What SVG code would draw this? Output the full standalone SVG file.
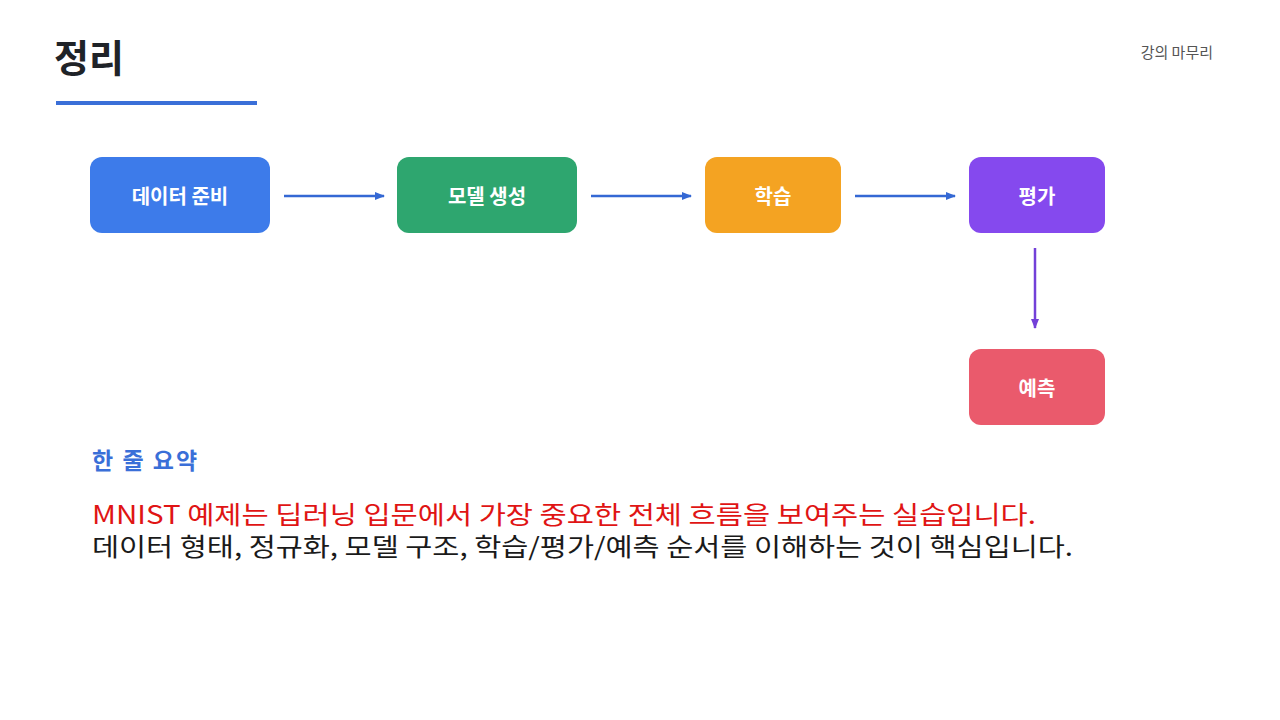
<svg xmlns="http://www.w3.org/2000/svg" width="1280" height="720" viewBox="0 0 1280 720">
<defs>
<style>
.t{font-family:"Noto Sans CJK KR","Noto Sans",sans-serif}
.nl{font-family:"Noto Sans CJK KR","Noto Sans",sans-serif;font-size:20px;font-weight:700;fill:#fff;text-anchor:middle;dominant-baseline:central}
.c{stroke-width:2.5;fill:none}
</style>
<marker id="ab" viewBox="0 0 10 10" refX="9" refY="5" markerWidth="4" markerHeight="4" orient="auto" markerUnits="strokeWidth"><path d="M0,1 L10,5 L0,9 z" fill="#3468d4"/></marker>
<marker id="ap" viewBox="0 0 10 10" refX="9" refY="5" markerWidth="4" markerHeight="4" orient="auto" markerUnits="strokeWidth"><path d="M0,1 L10,5 L0,9 z" fill="#7340d8"/></marker>
</defs>
<rect width="1280" height="720" fill="#fff"/>
<g id="header">
<text class="t" x="54" y="72" font-size="38" font-weight="700" fill="#1f2328">정리</text>
<rect x="56" y="101" width="201" height="4" fill="#3a6fd8"/>
<text class="t" x="1213" y="58" font-size="15" fill="#555" text-anchor="end">강의 마무리</text>
</g>
<g id="connectors">
<line class="c" x1="284" y1="196" x2="384" y2="196" stroke="#3468d4" marker-end="url(#ab)"/>
<line class="c" x1="591" y1="196" x2="691" y2="196" stroke="#3468d4" marker-end="url(#ab)"/>
<line class="c" x1="855" y1="196" x2="955" y2="196" stroke="#3468d4" marker-end="url(#ab)"/>
<line class="c" x1="1035" y1="248" x2="1035" y2="328" stroke="#7340d8" marker-end="url(#ap)"/>
</g>
<g id="n1"><rect x="90" y="157" width="180" height="76" rx="12" fill="#3d7bea"/><text class="nl" x="180" y="195">데이터 준비</text></g>
<g id="n2"><rect x="397" y="157" width="180" height="76" rx="12" fill="#2ea66f"/><text class="nl" x="487" y="195">모델 생성</text></g>
<g id="n3"><rect x="705" y="157" width="136" height="76" rx="12" fill="#f4a322"/><text class="nl" x="773" y="195">학습</text></g>
<g id="n4"><rect x="969" y="157" width="136" height="76" rx="12" fill="#8549ee"/><text class="nl" x="1037" y="195">평가</text></g>
<g id="n5"><rect x="969" y="349" width="136" height="76" rx="12" fill="#ea5a6c"/><text class="nl" x="1037" y="387">예측</text></g>
<g id="summary">
<text class="t" x="92" y="469" font-size="23" font-weight="700" fill="#3a6fd8" letter-spacing="2">한 줄 요약</text>
<text class="t" x="92" y="524" font-size="25" fill="#e01414" textLength="944" lengthAdjust="spacingAndGlyphs">MNIST 예제는 딥러닝 입문에서 가장 중요한 전체 흐름을 보여주는 실습입니다.</text>
<text class="t" x="92" y="556" font-size="25" fill="#1a1a1a" textLength="981" lengthAdjust="spacingAndGlyphs">데이터 형태, 정규화, 모델 구조, 학습/평가/예측 순서를 이해하는 것이 핵심입니다.</text>
</g>
</svg>
